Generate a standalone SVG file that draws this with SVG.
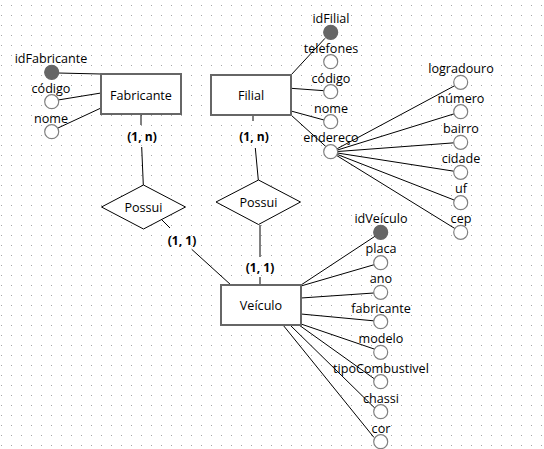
<svg xmlns="http://www.w3.org/2000/svg" width="544" height="449" viewBox="0 0 544 449">
<defs>
<pattern id="grid" width="10" height="10" patternUnits="userSpaceOnUse">
<rect x="1" y="5" width="1" height="1" fill="#a6a6a6"/>
</pattern>
<style>
text{font-family:"Open Sans","Noto Sans","DejaVu Sans",sans-serif;font-size:12.6px;fill:#000;text-anchor:middle}
.card{font-weight:bold;font-size:12px}
.ent{fill:#fff;stroke:#666;stroke-width:2}
.rel{fill:#fff;stroke:#000;stroke-width:1}
.att{fill:#fff;stroke:#808080;stroke-width:1.2}
.key{fill:#666;stroke:#666;stroke-width:1.2}
.ln{stroke:#000;stroke-width:1;fill:none}
</style>
</defs>
<rect width="544" height="449" fill="#fff"/>
<rect width="544" height="449" fill="url(#grid)"/>

<g id="connectors" class="ln">
<!-- Fabricante attrs -->
<line x1="58" y1="73" x2="101" y2="74"/>
<line x1="58" y1="100" x2="101" y2="93"/>
<line x1="58" y1="128" x2="101" y2="108"/>
<!-- Filial attrs -->
<line x1="291" y1="75" x2="325" y2="38.3"/>
<line x1="291" y1="88.3" x2="324" y2="90.7"/>
<line x1="291" y1="111" x2="324" y2="120"/>
<line x1="291" y1="115" x2="326" y2="146.7"/>
<!-- endereco sub attrs -->
<line x1="331" y1="152" x2="461" y2="82.3"/>
<line x1="331" y1="152" x2="461" y2="111.7"/>
<line x1="331" y1="152" x2="461" y2="142.3"/>
<line x1="331" y1="152" x2="461" y2="172.3"/>
<line x1="331" y1="152" x2="461" y2="202.7"/>
<line x1="331" y1="152" x2="461" y2="232.3"/>
<!-- Veiculo attrs -->
<line x1="301" y1="285" x2="381" y2="232.3"/>
<line x1="301" y1="286" x2="381" y2="262.7"/>
<line x1="301" y1="298" x2="381" y2="292.5"/>
<line x1="301" y1="314" x2="381" y2="321.5"/>
<line x1="301" y1="324" x2="375" y2="349.3"/>
<line x1="299" y1="325" x2="375" y2="379.3"/>
<line x1="290" y1="325" x2="375" y2="408.3"/>
<line x1="283" y1="325" x2="374" y2="437.5"/>
<!-- relationships -->
<line x1="141" y1="114" x2="141" y2="125"/>
<line x1="141.7" y1="147" x2="143.3" y2="185"/>
<line x1="253" y1="115" x2="253" y2="121"/>
<line x1="255.3" y1="148" x2="258.3" y2="180"/>
<line x1="260" y1="225" x2="260" y2="257"/>
<line x1="260" y1="277" x2="260" y2="285"/>
<line x1="161" y1="219" x2="170" y2="228"/>
<line x1="191.7" y1="249.3" x2="231" y2="285"/>
</g>

<g id="card-labels">
<text class="card" x="142" y="141">(1, n)</text>
<text class="card" x="254" y="141">(1, n)</text>
<text class="card" x="182" y="245">(1, 1)</text>
<text class="card" x="260" y="272">(1, 1)</text>
</g>

<g id="Fabricante">
<rect class="ent" x="101" y="74" width="80" height="40"/>
<text x="141" y="99.5">Fabricante</text>
</g>
<g id="Fabricante-idFabricante">
<circle class="key" cx="51.7" cy="72.3" r="7"/>
<text x="51" y="62.5">idFabricante</text>
</g>
<g id="Fabricante-codigo">
<circle class="att" cx="51.7" cy="101.7" r="7"/>
<text x="51" y="92.5">código</text>
</g>
<g id="Fabricante-nome">
<circle class="att" cx="51.7" cy="131.7" r="7"/>
<text x="51" y="122.5">nome</text>
</g>

<g id="Filial">
<rect class="ent" x="211" y="75" width="80" height="40"/>
<text x="251" y="99.5">Filial</text>
</g>
<g id="Filial-idFilial">
<circle class="key" cx="330.7" cy="32.3" r="7"/>
<text x="331" y="22.5">idFilial</text>
</g>
<g id="Filial-telefones">
<circle class="att" cx="330.7" cy="61.7" r="7"/>
<text x="331" y="52.5">telefones</text>
</g>
<g id="Filial-codigo">
<circle class="att" cx="330.7" cy="91.7" r="7"/>
<text x="331" y="82.5">código</text>
</g>
<g id="Filial-nome">
<circle class="att" cx="330.7" cy="121.7" r="7"/>
<text x="331" y="112.5">nome</text>
</g>
<g id="Filial-endereco">
<text x="331" y="142">endereço</text>
<circle class="att" cx="330.7" cy="151.7" r="7"/>
</g>
<g id="endereco-logradouro">
<circle class="att" cx="460.7" cy="82.3" r="7"/>
<text x="461" y="72.5">logradouro</text>
</g>
<g id="endereco-numero">
<circle class="att" cx="460.7" cy="111.7" r="7"/>
<text x="461" y="102.5">número</text>
</g>
<g id="endereco-bairro">
<circle class="att" cx="460.7" cy="142.3" r="7"/>
<text x="461" y="132.5">bairro</text>
</g>
<g id="endereco-cidade">
<circle class="att" cx="460.7" cy="172.3" r="7"/>
<text x="461" y="162.5">cidade</text>
</g>
<g id="endereco-uf">
<circle class="att" cx="460.7" cy="202.7" r="7"/>
<text x="461" y="192.5">uf</text>
</g>
<g id="endereco-cep">
<circle class="att" cx="460.7" cy="232.3" r="7"/>
<text x="461" y="222.5">cep</text>
</g>

<g id="Possui1">
<polygon class="rel" points="143.5,185 185.5,207 143.5,229 101.5,207"/>
<text x="143.5" y="212">Possui</text>
</g>
<g id="Possui2">
<polygon class="rel" points="258.5,180 300.5,202 258.5,224.5 216,202"/>
<text x="258.5" y="207">Possui</text>
</g>

<g id="Veiculo">
<rect class="ent" x="221" y="285" width="80" height="40"/>
<text x="261" y="309.5">Veículo</text>
</g>
<g id="Veiculo-idVeiculo">
<circle class="key" cx="380.7" cy="232.3" r="7"/>
<text x="381" y="222.5">idVeículo</text>
</g>
<g id="Veiculo-placa">
<circle class="att" cx="380.7" cy="262.7" r="7"/>
<text x="381" y="252.5">placa</text>
</g>
<g id="Veiculo-ano">
<circle class="att" cx="380.7" cy="292.3" r="7"/>
<text x="381" y="282.5">ano</text>
</g>
<g id="Veiculo-fabricante">
<circle class="att" cx="380.7" cy="321.7" r="7"/>
<text x="381" y="312.5">fabricante</text>
</g>
<g id="Veiculo-modelo">
<circle class="att" cx="380.7" cy="352.3" r="7"/>
<text x="381" y="342.5">modelo</text>
</g>
<g id="Veiculo-tipoCombustivel">
<circle class="att" cx="380.7" cy="381.7" r="7"/>
<text x="381" y="372.5">tipoCombustivel</text>
</g>
<g id="Veiculo-chassi">
<circle class="att" cx="380.7" cy="411.7" r="7"/>
<text x="381" y="402.5">chassi</text>
</g>
<g id="Veiculo-cor">
<circle class="att" cx="380.7" cy="441.7" r="7"/>
<text x="381" y="432.5">cor</text>
</g>
</svg>
